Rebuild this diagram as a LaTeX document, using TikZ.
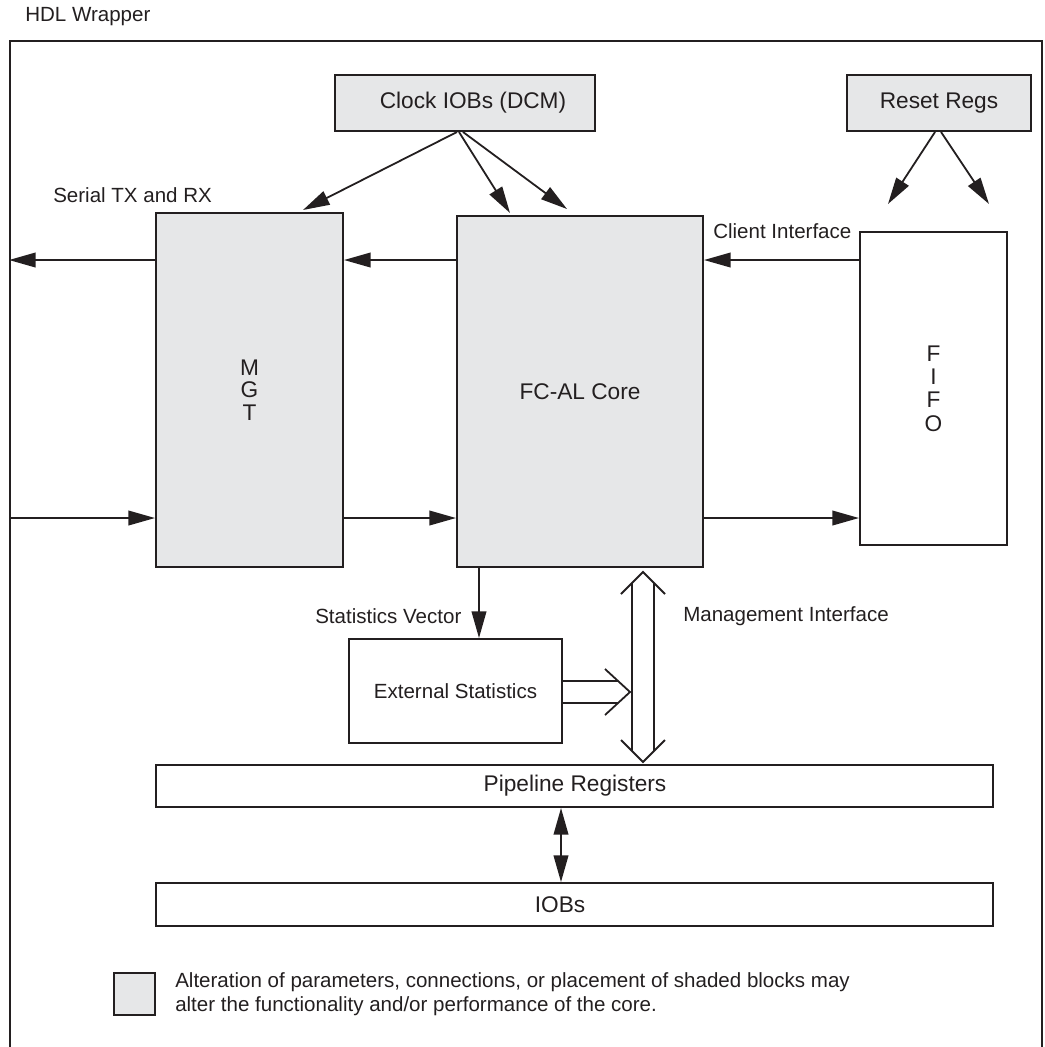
\documentclass[tikz,border=0pt]{standalone}
\usepackage{fontspec}
\setmainfont{Liberation Sans}
\usetikzlibrary{arrows.meta,fit,calc}
\definecolor{ink}{HTML}{231F20}
\definecolor{shade}{HTML}{E6E7E8}
\begin{document}
\begin{tikzpicture}[x=0.75pt,y=-0.75pt,
  box/.style={draw=ink, line width=1.5pt, inner sep=0pt, align=center, text=ink,
    font=\fontsize{17}{20}\selectfont},
  shadedbox/.style={box, fill=shade},
  plainbox/.style={box, fill=white},
  lbl/.style={font=\fontsize{15.4}{18}\selectfont, text=ink, inner sep=0pt},
  arr/.style={draw=ink, line width=1.35pt, -{Triangle[length=20pt,width=11pt]}},
  darr/.style={draw=ink, line width=1.35pt, {Triangle[length=20pt,width=11pt]}-{Triangle[length=20pt,width=11pt]}},
  hol/.style={draw=ink, line width=1.35pt, line join=miter}]
\useasboundingbox (0,0) rectangle (1045,1047);
\clip (0,0) rectangle (1045,1047);

% frame
\node[box, fit={(10,41) (1042,1062)}] (frame) {};
\node[lbl, anchor=west] (hdl) at (25,17) {HDL Wrapper};

% blocks
\node[shadedbox, fit={(335,75) (595,131)}] (clock) {};
\node[text=ink, font=\fontsize{17}{20}\selectfont, inner sep=0pt] (clocktxt) at (473,103) {Clock IOBs (DCM)};
\node[shadedbox, fit={(847,75) (1031,131)}, label={[text=ink, font=\fontsize{17}{20}\selectfont]center:Reset Regs}] (reset) {};
\node[shadedbox, fit={(156,213) (343,567)}] (mgt) {};
\node[text=ink, align=center, font=\fontsize{17}{17}\selectfont, inner sep=0pt] (mgttxt) at (mgt.center) {M\\G\\T};
\node[shadedbox, fit={(457,216) (703,567)}] (core) {};
\node[text=ink, font=\fontsize{17}{20}\selectfont, inner sep=0pt] (coretxt) at (core.center) {FC-AL Core};
\node[plainbox, fit={(860,232) (1007,545)}] (fifo) {};
\node[text=ink, align=center, font=\fontsize{17}{17.5}\selectfont, inner sep=0pt] (fifotxt) at (fifo.center) {F\\I\\F\\O};
\node[plainbox, fit={(349,639) (562,743)}] (ext) {};
\node[text=ink, font=\fontsize{15.4}{18}\selectfont, inner sep=0pt] (exttxt) at (ext.center) {External Statistics};
\node[plainbox, fit={(156,765) (993,807)}] (pipe) {};
\node[text=ink, font=\fontsize{17}{20}\selectfont, inner sep=0pt] (pipetxt) at (575,786) {Pipeline Registers};
\node[plainbox, fit={(156,883) (993,926)}] (iobs) {};
\node[text=ink, font=\fontsize{17}{20}\selectfont, inner sep=0pt] (iobstxt) at (560,905) {IOBs};

% labels
\node[lbl, anchor=west] (serial) at (53,195) {Serial TX and RX};
\node[lbl, anchor=west] (client) at (713,231) {Client Interface};
\node[lbl, anchor=west] (stv) at (315,616) {Statistics Vector};
\node[lbl, anchor=west] (mgmt) at (683,616) {Management Interface};

% horizontal data arrows
\coordinate (yt) at (0,260);
\coordinate (yb) at (0,518);
\draw[arr] (mgt.west|-yt) -- (frame.west|-yt);
\draw[arr] (core.west|-yt) -- (mgt.east|-yt);
\draw[arr] (fifo.west|-yt) -- (core.east|-yt);
\draw[arr] (frame.west|-yb) -- (mgt.west|-yb);
\draw[arr] (mgt.east|-yb) -- (core.west|-yb);
\draw[arr] (core.east|-yb) -- (fifo.west|-yb);

% clock arrows
\coordinate (c1) at (303,210);
\coordinate (c2) at (510,213);
\coordinate (c3) at (567,209);
\draw[arr] ($(clock.south)+(-8,0)$) -- (c1);
\draw[arr] ($(clock.south)+(-6,0)$) -- (c2);
\draw[arr] ($(clock.south)+(-2,0)$) -- (c3);

% reset arrows
\coordinate (r1) at (888,204);
\coordinate (r2) at (989,204);
\draw[arr] ($(reset.south)+(-4,0)$) -- (r1);
\draw[arr] ($(reset.south)+(2,0)$) -- (r2);

% statistics vector
\coordinate (sv) at (479,0);
\draw[arr] (core.south-|sv) -- (ext.north-|sv);

% management interface (hollow double arrow)
\coordinate (mtop) at (643,572);
\coordinate (mbot) at (643,762);
\draw[hol] ($(mtop)+(-22,22)$) -- (mtop) -- ($(mtop)+(22,22)$);
\draw[hol] ($(mbot)+(-22,-22)$) -- (mbot) -- ($(mbot)+(22,-22)$);
\draw[hol] ($(mtop)+(-11,11)$) -- ($(mbot)+(-11,-11)$);
\draw[hol] ($(mtop)+(11,11)$) -- ($(mbot)+(11,-11)$);

% external statistics hollow arrow
\coordinate (et) at (630,692);
\draw[hol] ($(et)+(-25,-23)$) -- (et) -- ($(et)+(-25,23)$);
\draw[hol] (ext.east|-{$(et)+(0,-11)$}) -- ($(et)+(-12,-11)$);
\draw[hol] (ext.east|-{$(et)+(0,11)$}) -- ($(et)+(-12,11)$);

% pipeline <-> IOBs
\coordinate (pv) at (561,0);
\draw[darr] (pipe.south-|pv) -- (iobs.north-|pv);

% legend
\node[shadedbox, fit={(114,973) (155,1015)}] (legend) {};
\node[lbl, anchor=west, align=left, font=\fontsize{15.4}{18}\selectfont] (legendtxt) at (175,994.5)
  {Alteration of parameters, connections, or placement of shaded blocks may\\alter the functionality and/or performance of the core.};
\end{tikzpicture}
\end{document}
